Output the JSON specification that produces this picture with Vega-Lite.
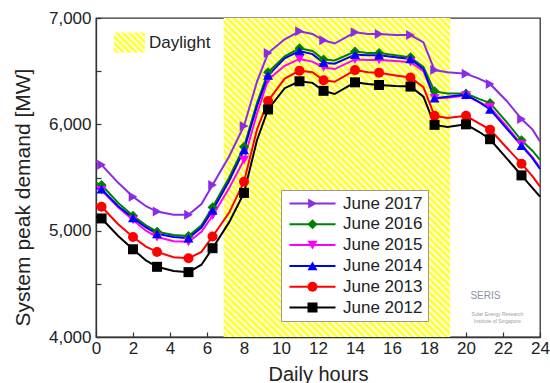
{
  "$schema": "https://vega.github.io/schema/vega-lite/v6.json",
  "width": 444,
  "height": 319,
  "autosize": {"type": "none"},
  "padding": {"left": 96, "top": 18, "right": 10, "bottom": 46},
  "background": "white",
  "config": {
    "font": "Liberation Sans",
    "view": {"stroke": "#333", "strokeWidth": 1.3},
    "axis": {"grid": false, "domainColor": "#333", "tickColor": "#333", "labelColor": "#222", "titleColor": "#222", "labelFont": "Liberation Sans", "titleFont": "Liberation Sans", "labelFontSize": 17, "titleFontSize": 20, "titleFontWeight": "normal", "tickWidth": 1.2, "domainWidth": 1.3, "labelOverlap": false, "labelFlush": false, "tickSize": -5},
    "axisX": {"tickCount": 12, "labelPadding": 8, "titleY": 43, "titleBaseline": "alphabetic"},
    "axisY": {"tickCount": 6, "labelExpr": "datum.value % 1000 === 0 ? format(datum.value, ',') : ''", "labelPadding": 10, "titleX": -63, "titleY": 179, "titleBaseline": "bottom", "titleFontSize": 21}
  },
  "datasets": {
    "band": [{"start": 6.9, "end": 19.15, "label": "Daylight"}],
    "demand": [
      {"h": 0, "June 2017": 5650, "June 2016": 5450, "June 2015": 5400, "June 2014": 5400, "June 2013": 5240, "June 2012": 5130},
      {"h": 0.3, "June 2017": 5620, "June 2016": 5430, "June 2015": 5380, "June 2014": 5390, "June 2013": 5225, "June 2012": 5115},
      {"h": 1.2, "June 2017": 5450, "June 2016": 5260, "June 2015": 5220, "June 2014": 5230, "June 2013": 5060, "June 2012": 4950},
      {"h": 2, "June 2017": 5320, "June 2016": 5140, "June 2015": 5100, "June 2014": 5120, "June 2013": 4940, "June 2012": 4825},
      {"h": 2.7, "June 2017": 5230, "June 2016": 5050, "June 2015": 5000, "June 2014": 5030, "June 2013": 4850, "June 2012": 4720},
      {"h": 3.3, "June 2017": 5180, "June 2016": 4990, "June 2015": 4940, "June 2014": 4970, "June 2013": 4800, "June 2012": 4660},
      {"h": 4.2, "June 2017": 5150, "June 2016": 4960, "June 2015": 4900, "June 2014": 4940, "June 2013": 4750, "June 2012": 4620},
      {"h": 5, "June 2017": 5150, "June 2016": 4950, "June 2015": 4895, "June 2014": 4930, "June 2013": 4740, "June 2012": 4610},
      {"h": 5.7, "June 2017": 5250, "June 2016": 5050, "June 2015": 4990, "June 2014": 5030, "June 2013": 4800, "June 2012": 4680},
      {"h": 6.3, "June 2017": 5430, "June 2016": 5220, "June 2015": 5140, "June 2014": 5190, "June 2013": 4945, "June 2012": 4835},
      {"h": 7.2, "June 2017": 5700, "June 2016": 5500, "June 2015": 5400, "June 2014": 5470, "June 2013": 5170, "June 2012": 5080},
      {"h": 8, "June 2017": 5985, "June 2016": 5790, "June 2015": 5665, "June 2014": 5760, "June 2013": 5460, "June 2012": 5355},
      {"h": 8.7, "June 2017": 6400, "June 2016": 6200, "June 2015": 6100, "June 2014": 6170, "June 2013": 5950, "June 2012": 5850},
      {"h": 9.3, "June 2017": 6670, "June 2016": 6490, "June 2015": 6420, "June 2014": 6460, "June 2013": 6220, "June 2012": 6140},
      {"h": 10.2, "June 2017": 6800, "June 2016": 6640, "June 2015": 6550, "June 2014": 6620, "June 2013": 6430, "June 2012": 6340},
      {"h": 11, "June 2017": 6875, "June 2016": 6715, "June 2015": 6615, "June 2014": 6690, "June 2013": 6505, "June 2012": 6405},
      {"h": 11.7, "June 2017": 6850, "June 2016": 6690, "June 2015": 6590, "June 2014": 6660, "June 2013": 6490, "June 2012": 6390},
      {"h": 12.3, "June 2017": 6790, "June 2016": 6610, "June 2015": 6535, "June 2014": 6580, "June 2013": 6415, "June 2012": 6315},
      {"h": 12.9, "June 2017": 6760, "June 2016": 6600, "June 2015": 6520, "June 2014": 6570, "June 2013": 6400, "June 2012": 6285},
      {"h": 14, "June 2017": 6865, "June 2016": 6685, "June 2015": 6610, "June 2014": 6655, "June 2013": 6510, "June 2012": 6395},
      {"h": 14.7, "June 2017": 6850, "June 2016": 6670, "June 2015": 6605, "June 2014": 6650, "June 2013": 6490, "June 2012": 6380},
      {"h": 15.3, "June 2017": 6850, "June 2016": 6670, "June 2015": 6605, "June 2014": 6650, "June 2013": 6485, "June 2012": 6370},
      {"h": 16.2, "June 2017": 6840, "June 2016": 6650, "June 2015": 6595, "June 2014": 6630, "June 2013": 6460, "June 2012": 6360},
      {"h": 17, "June 2017": 6840, "June 2016": 6630, "June 2015": 6585, "June 2014": 6615, "June 2013": 6440, "June 2012": 6355},
      {"h": 17.7, "June 2017": 6770, "June 2016": 6540, "June 2015": 6500, "June 2014": 6520, "June 2013": 6350, "June 2012": 6260},
      {"h": 18.3, "June 2017": 6510, "June 2016": 6310, "June 2015": 6245, "June 2014": 6245, "June 2013": 6080, "June 2012": 5995},
      {"h": 19, "June 2017": 6490, "June 2016": 6290, "June 2015": 6250, "June 2014": 6260, "June 2013": 6060, "June 2012": 5975},
      {"h": 20, "June 2017": 6475, "June 2016": 6290, "June 2015": 6270, "June 2014": 6280, "June 2013": 6080, "June 2012": 6000},
      {"h": 20.7, "June 2017": 6430, "June 2016": 6240, "June 2015": 6210, "June 2014": 6210, "June 2013": 6010, "June 2012": 5930},
      {"h": 21.3, "June 2017": 6380, "June 2016": 6200, "June 2015": 6160, "June 2014": 6140, "June 2013": 5950, "June 2012": 5860},
      {"h": 22.2, "June 2017": 6220, "June 2016": 6020, "June 2015": 5980, "June 2014": 5960, "June 2013": 5780, "June 2012": 5680},
      {"h": 23, "June 2017": 6050, "June 2016": 5850, "June 2015": 5810, "June 2014": 5800, "June 2013": 5630, "June 2012": 5520},
      {"h": 23.6, "June 2017": 5950, "June 2016": 5750, "June 2015": 5690, "June 2014": 5680, "June 2013": 5510, "June 2012": 5400},
      {"h": 24, "June 2017": 5840, "June 2016": 5665, "June 2015": 5590, "June 2014": 5580, "June 2013": 5415, "June 2012": 5320}
    ]
  },
  "layer": [
    {
      "data": {"name": "band"},
      "mark": {
        "type": "rect",
        "color": {
          "gradient": "linear", "x1": 0, "y1": 1, "x2": 0.8, "y2": -0.14,
          "stops": [
            {"offset": 0, "color": "#fff"}, {"offset": 0.00625, "color": "#ff0"}, {"offset": 0.0125, "color": "#fff"}, {"offset": 0.01875, "color": "#ff0"}, {"offset": 0.025, "color": "#fff"}, {"offset": 0.03125, "color": "#ff0"}, {"offset": 0.0375, "color": "#fff"}, {"offset": 0.04375, "color": "#ff0"}, {"offset": 0.05, "color": "#fff"}, {"offset": 0.05625, "color": "#ff0"}, {"offset": 0.0625, "color": "#fff"}, {"offset": 0.06875, "color": "#ff0"}, {"offset": 0.075, "color": "#fff"}, {"offset": 0.08125, "color": "#ff0"}, {"offset": 0.0875, "color": "#fff"}, {"offset": 0.09375, "color": "#ff0"},
            {"offset": 0.1, "color": "#fff"}, {"offset": 0.10625, "color": "#ff0"}, {"offset": 0.1125, "color": "#fff"}, {"offset": 0.11875, "color": "#ff0"}, {"offset": 0.125, "color": "#fff"}, {"offset": 0.13125, "color": "#ff0"}, {"offset": 0.1375, "color": "#fff"}, {"offset": 0.14375, "color": "#ff0"}, {"offset": 0.15, "color": "#fff"}, {"offset": 0.15625, "color": "#ff0"}, {"offset": 0.1625, "color": "#fff"}, {"offset": 0.16875, "color": "#ff0"}, {"offset": 0.175, "color": "#fff"}, {"offset": 0.18125, "color": "#ff0"}, {"offset": 0.1875, "color": "#fff"}, {"offset": 0.19375, "color": "#ff0"},
            {"offset": 0.2, "color": "#fff"}, {"offset": 0.20625, "color": "#ff0"}, {"offset": 0.2125, "color": "#fff"}, {"offset": 0.21875, "color": "#ff0"}, {"offset": 0.225, "color": "#fff"}, {"offset": 0.23125, "color": "#ff0"}, {"offset": 0.2375, "color": "#fff"}, {"offset": 0.24375, "color": "#ff0"}, {"offset": 0.25, "color": "#fff"}, {"offset": 0.25625, "color": "#ff0"}, {"offset": 0.2625, "color": "#fff"}, {"offset": 0.26875, "color": "#ff0"}, {"offset": 0.275, "color": "#fff"}, {"offset": 0.28125, "color": "#ff0"}, {"offset": 0.2875, "color": "#fff"}, {"offset": 0.29375, "color": "#ff0"},
            {"offset": 0.3, "color": "#fff"}, {"offset": 0.30625, "color": "#ff0"}, {"offset": 0.3125, "color": "#fff"}, {"offset": 0.31875, "color": "#ff0"}, {"offset": 0.325, "color": "#fff"}, {"offset": 0.33125, "color": "#ff0"}, {"offset": 0.3375, "color": "#fff"}, {"offset": 0.34375, "color": "#ff0"}, {"offset": 0.35, "color": "#fff"}, {"offset": 0.35625, "color": "#ff0"}, {"offset": 0.3625, "color": "#fff"}, {"offset": 0.36875, "color": "#ff0"}, {"offset": 0.375, "color": "#fff"}, {"offset": 0.38125, "color": "#ff0"}, {"offset": 0.3875, "color": "#fff"}, {"offset": 0.39375, "color": "#ff0"},
            {"offset": 0.4, "color": "#fff"}, {"offset": 0.40625, "color": "#ff0"}, {"offset": 0.4125, "color": "#fff"}, {"offset": 0.41875, "color": "#ff0"}, {"offset": 0.425, "color": "#fff"}, {"offset": 0.43125, "color": "#ff0"}, {"offset": 0.4375, "color": "#fff"}, {"offset": 0.44375, "color": "#ff0"}, {"offset": 0.45, "color": "#fff"}, {"offset": 0.45625, "color": "#ff0"}, {"offset": 0.4625, "color": "#fff"}, {"offset": 0.46875, "color": "#ff0"}, {"offset": 0.475, "color": "#fff"}, {"offset": 0.48125, "color": "#ff0"}, {"offset": 0.4875, "color": "#fff"}, {"offset": 0.49375, "color": "#ff0"},
            {"offset": 0.5, "color": "#fff"}, {"offset": 0.50625, "color": "#ff0"}, {"offset": 0.5125, "color": "#fff"}, {"offset": 0.51875, "color": "#ff0"}, {"offset": 0.525, "color": "#fff"}, {"offset": 0.53125, "color": "#ff0"}, {"offset": 0.5375, "color": "#fff"}, {"offset": 0.54375, "color": "#ff0"}, {"offset": 0.55, "color": "#fff"}, {"offset": 0.55625, "color": "#ff0"}, {"offset": 0.5625, "color": "#fff"}, {"offset": 0.56875, "color": "#ff0"}, {"offset": 0.575, "color": "#fff"}, {"offset": 0.58125, "color": "#ff0"}, {"offset": 0.5875, "color": "#fff"}, {"offset": 0.59375, "color": "#ff0"},
            {"offset": 0.6, "color": "#fff"}, {"offset": 0.60625, "color": "#ff0"}, {"offset": 0.6125, "color": "#fff"}, {"offset": 0.61875, "color": "#ff0"}, {"offset": 0.625, "color": "#fff"}, {"offset": 0.63125, "color": "#ff0"}, {"offset": 0.6375, "color": "#fff"}, {"offset": 0.64375, "color": "#ff0"}, {"offset": 0.65, "color": "#fff"}, {"offset": 0.65625, "color": "#ff0"}, {"offset": 0.6625, "color": "#fff"}, {"offset": 0.66875, "color": "#ff0"}, {"offset": 0.675, "color": "#fff"}, {"offset": 0.68125, "color": "#ff0"}, {"offset": 0.6875, "color": "#fff"}, {"offset": 0.69375, "color": "#ff0"},
            {"offset": 0.7, "color": "#fff"}, {"offset": 0.70625, "color": "#ff0"}, {"offset": 0.7125, "color": "#fff"}, {"offset": 0.71875, "color": "#ff0"}, {"offset": 0.725, "color": "#fff"}, {"offset": 0.73125, "color": "#ff0"}, {"offset": 0.7375, "color": "#fff"}, {"offset": 0.74375, "color": "#ff0"}, {"offset": 0.75, "color": "#fff"}, {"offset": 0.75625, "color": "#ff0"}, {"offset": 0.7625, "color": "#fff"}, {"offset": 0.76875, "color": "#ff0"}, {"offset": 0.775, "color": "#fff"}, {"offset": 0.78125, "color": "#ff0"}, {"offset": 0.7875, "color": "#fff"}, {"offset": 0.79375, "color": "#ff0"},
            {"offset": 0.8, "color": "#fff"}, {"offset": 0.80625, "color": "#ff0"}, {"offset": 0.8125, "color": "#fff"}, {"offset": 0.81875, "color": "#ff0"}, {"offset": 0.825, "color": "#fff"}, {"offset": 0.83125, "color": "#ff0"}, {"offset": 0.8375, "color": "#fff"}, {"offset": 0.84375, "color": "#ff0"}, {"offset": 0.85, "color": "#fff"}, {"offset": 0.85625, "color": "#ff0"}, {"offset": 0.8625, "color": "#fff"}, {"offset": 0.86875, "color": "#ff0"}, {"offset": 0.875, "color": "#fff"}, {"offset": 0.88125, "color": "#ff0"}, {"offset": 0.8875, "color": "#fff"}, {"offset": 0.89375, "color": "#ff0"},
            {"offset": 0.9, "color": "#fff"}, {"offset": 0.90625, "color": "#ff0"}, {"offset": 0.9125, "color": "#fff"}, {"offset": 0.91875, "color": "#ff0"}, {"offset": 0.925, "color": "#fff"}, {"offset": 0.93125, "color": "#ff0"}, {"offset": 0.9375, "color": "#fff"}, {"offset": 0.94375, "color": "#ff0"}, {"offset": 0.95, "color": "#fff"}, {"offset": 0.95625, "color": "#ff0"}, {"offset": 0.9625, "color": "#fff"}, {"offset": 0.96875, "color": "#ff0"}, {"offset": 0.975, "color": "#fff"}, {"offset": 0.98125, "color": "#ff0"}, {"offset": 0.9875, "color": "#fff"}, {"offset": 0.99375, "color": "#ff0"},
            {"offset": 1, "color": "#fff"}
          ]
        }
      },
      "encoding": {
        "x": {"field": "start", "type": "quantitative", "scale": {"domain": [0, 24], "nice": false}, "title": "Daily hours"},
        "x2": {"field": "end"}
      }
    },
    {
      "data": {"name": "band"},
      "mark": {
        "type": "rect",
        "color": {
          "gradient": "linear", "x1": 0, "y1": 1, "x2": 1.16, "y2": 0.25,
          "stops": [
            {"offset": 0, "color": "#fff"}, {"offset": 0.0625, "color": "#ff0"}, {"offset": 0.125, "color": "#fff"}, {"offset": 0.1875, "color": "#ff0"},
            {"offset": 0.25, "color": "#fff"}, {"offset": 0.3125, "color": "#ff0"}, {"offset": 0.375, "color": "#fff"}, {"offset": 0.4375, "color": "#ff0"},
            {"offset": 0.5, "color": "#fff"}, {"offset": 0.5625, "color": "#ff0"}, {"offset": 0.625, "color": "#fff"}, {"offset": 0.6875, "color": "#ff0"},
            {"offset": 0.75, "color": "#fff"}, {"offset": 0.8125, "color": "#ff0"}, {"offset": 0.875, "color": "#fff"}, {"offset": 0.9375, "color": "#ff0"},
            {"offset": 1, "color": "#fff"}
          ]
        }
      },
      "encoding": {
        "x": {"field": "start", "type": "quantitative", "title": "Daily hours"},
        "x2": {"field": "start"},
        "opacity": {
          "field": "label", "type": "ordinal",
          "scale": {"range": [1]},
          "legend": {
            "orient": "none", "legendX": 18, "legendY": 9, "direction": "vertical", "title": null, "padding": 0,
            "symbolType": "M-1,-0.645H1V0.645H-1Z", "symbolSize": 961, "symbolStrokeWidth": 0,
            "labelFont": "Liberation Sans", "labelFontSize": 17, "labelColor": "#222", "labelOffset": 4
          }
        }
      }
    },
    {
      "data": {"name": "demand"},
      "transform": [{"fold": ["June 2017", "June 2016", "June 2015", "June 2014", "June 2013", "June 2012"], "as": ["series", "mw"]}],
      "mark": {"type": "line", "strokeWidth": 2},
      "encoding": {
        "x": {"field": "h", "type": "quantitative", "title": "Daily hours"},
        "y": {"field": "mw", "type": "quantitative", "scale": {"domain": [4000, 7000], "nice": false}, "title": "System peak demand [MW]"},
        "stroke": {
          "field": "series", "type": "nominal", "sort": "descending",
          "scale": {"range": ["#8B2BE2", "#008000", "#FF00FF", "#0000FF", "#FF0000", "#000000"]},
          "legend": {
            "orient": "none", "legendX": 185, "legendY": 172, "direction": "vertical", "title": null, "padding": 5,
            "symbolType": "M-4.6,0L4.6,0", "symbolSize": 100, "symbolOffset": 18, "symbolStrokeWidth": 2,
            "labelFont": "Liberation Sans", "labelFontSize": 17, "labelColor": "#222", "labelOffset": 22, "labelLimit": 200, "rowPadding": 2.8,
            "strokeColor": "#999", "fillColor": "white"
          }
        }
      }
    },
    {
      "data": {"name": "demand"},
      "transform": [
        {"fold": ["June 2017", "June 2016", "June 2015", "June 2014", "June 2013", "June 2012"], "as": ["series", "mw"]},
        {"filter": {"field": "h", "oneOf": [0.3, 2, 3.3, 5, 6.3, 8, 9.3, 11, 12.3, 14, 15.3, 17, 18.3, 20, 21.3, 23]}}
      ],
      "mark": {"type": "point", "filled": true, "size": 100, "opacity": 1},
      "encoding": {
        "x": {"field": "h", "type": "quantitative", "title": "Daily hours"},
        "y": {"field": "mw", "type": "quantitative", "title": "System peak demand [MW]"},
        "color": {
          "field": "series", "type": "nominal",
          "scale": {"domain": ["June 2017", "June 2016", "June 2015", "June 2014", "June 2013", "June 2012"], "range": ["#8B2BE2", "#008000", "#FF00FF", "#0000FF", "#FF0000", "#000000"]},
          "legend": {
            "orient": "none", "legendX": 185, "legendY": 172, "direction": "vertical", "title": null, "padding": 5,
            "symbolSize": 100, "symbolOffset": 18,
            "labelFont": "Liberation Sans", "labelFontSize": 17, "labelOffset": 22, "labelLimit": 200, "labelOpacity": 0, "rowPadding": 2.8
          }
        },
        "shape": {
          "field": "series", "type": "nominal",
          "scale": {"domain": ["June 2017", "June 2016", "June 2015", "June 2014", "June 2013", "June 2012"], "range": ["triangle-right", "diamond", "triangle-down", "triangle-up", "circle", "square"]},
          "legend": {
            "orient": "none", "legendX": 185, "legendY": 172, "direction": "vertical", "title": null, "padding": 5,
            "symbolSize": 100, "symbolOffset": 18,
            "labelFont": "Liberation Sans", "labelFontSize": 17, "labelOffset": 22, "labelLimit": 200, "labelOpacity": 0, "rowPadding": 2.8
          }
        }
      }
    },
    {
      "data": {"values": [{}]},
      "mark": {"type": "text", "text": "SERIS", "font": "Liberation Sans", "fontSize": 10, "color": "#8a94a6"},
      "encoding": {
        "x": {"datum": 21.05, "type": "quantitative", "title": "Daily hours"},
        "y": {"datum": 4390, "type": "quantitative", "title": "System peak demand [MW]"}
      }
    },
    {
      "data": {"values": [{}]},
      "mark": {"type": "text", "text": ["Solar Energy Research", "Institute of Singapore"], "font": "Liberation Sans", "fontSize": 5, "lineHeight": 6.5, "color": "#9aa0aa"},
      "encoding": {
        "x": {"datum": 21.7, "type": "quantitative", "title": "Daily hours"},
        "y": {"datum": 4215, "type": "quantitative", "title": "System peak demand [MW]"}
      }
    }
  ]
}
